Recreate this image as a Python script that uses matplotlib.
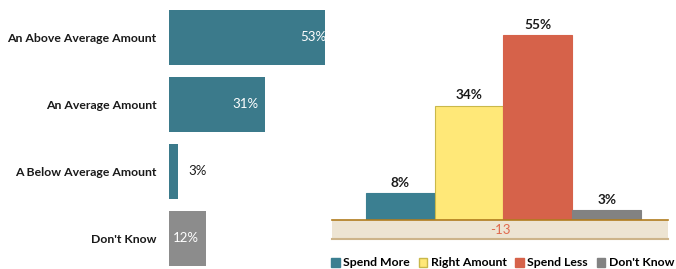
import matplotlib.pyplot as plt
import matplotlib.patches as mpatches
import matplotlib.transforms as mtransforms

# --- data ---
AMOUNT_CATS = ["An Above Average Amount", "An Average Amount", "A Below Average Amount", "Don't Know"]
AMOUNT_VALS = [53, 31, 3, 12]
AMOUNT_COLORS = ["#3B7A8B", "#3B7A8B", "#3B7A8B", "#8C8C8C"]

SPEND_CATS = ["Spend More", "Right Amount", "Spend Less", "Don't Know"]
SPEND_VALS = [8, 34, 55, 3]
SPEND_COLORS = ["#3B7F91", "#FFE878", "#D6624A", "#828282"]
SPEND_EDGES = ["#3B7F91", "#C9B84A", "#D6624A", "#828282"]
NET_SCORE = -13

plt.rcParams['font.family'] = ['Lato', 'DejaVu Sans']

W, H = 676, 269
fig = plt.figure(figsize=(W / 100, H / 100), dpi=100)

def box(x0, y0, x1, y1):
    # pixel box -> figure fraction
    return [x0 / W, 1 - y1 / H, (x1 - x0) / W, (y1 - y0) / H]

# --- left: horizontal bars (plot area clips the longest bar) ---
ax1 = fig.add_axes(box(169, 4, 325, 272))
ypos = list(range(len(AMOUNT_CATS)))
ax1.barh(ypos, AMOUNT_VALS, height=0.82, color=AMOUNT_COLORS)
ax1.set_xlim(0, 50.3)
ax1.set_ylim(3.5, -0.5)
ax1.set_yticks(ypos)
ax1.set_yticklabels(AMOUNT_CATS, fontsize=8.8, fontweight='bold', color='#1a1a1a')
ax1.tick_params(axis='y', length=0, pad=9)
ax1.set_xticks([])
for s in ax1.spines.values():
    s.set_visible(False)
inside = mtransforms.offset_copy(ax1.transData, fig=fig, x=-5, y=0, units='points')
outside = mtransforms.offset_copy(ax1.transData, fig=fig, x=7, y=0, units='points')
for y, v in zip(ypos, AMOUNT_VALS):
    if v > 8:
        ax1.text(v, y, f"{v}%", transform=inside, ha='right', va='center',
                 color='white', fontsize=9.5, clip_on=True)
    else:
        ax1.text(v, y, f"{v}%", transform=outside, ha='left', va='center',
                 color='#1a1a1a', fontsize=9.5)

# --- right: vertical bars ---
ax2 = fig.add_axes(box(332, 18, 668, 220))
xpos = list(range(len(SPEND_CATS)))
ax2.bar(xpos, SPEND_VALS, width=1.0, color=SPEND_COLORS, edgecolor=SPEND_EDGES, linewidth=0.8)
ax2.set_xlim(-0.99, 3.89)
ax2.set_ylim(0, 60)
ax2.axis('off')
for x, v in zip(xpos, SPEND_VALS):
    ax2.annotate(f"{v}%", (x, v), xytext=(0, 3), textcoords='offset points',
                 ha='center', va='bottom', fontsize=9.8, fontweight='bold', color='#1a1a1a')

# band under the bars with the net score
ax3 = fig.add_axes(box(332, 220, 668, 239))
ax3.set_facecolor('#EDE4D2')
ax3.set_xticks([])
ax3.set_yticks([])
for side in ['left', 'right']:
    ax3.spines[side].set_visible(False)
ax3.spines['top'].set_color('#B07C1E')
ax3.spines['top'].set_linewidth(1.2)
ax3.spines['bottom'].set_color('#CDB48A')
ax3.spines['bottom'].set_linewidth(1.5)
ax3.text(0.5, 0.5, str(NET_SCORE), ha='center', va='center', color='#E06A4E',
         fontsize=9.5, transform=ax3.transAxes)

# legend
handles = [mpatches.Patch(facecolor=c, edgecolor=e, label=l)
           for c, e, l in zip(SPEND_COLORS, SPEND_EDGES, SPEND_CATS)]
fig.legend(handles=handles, loc='center left', bbox_to_anchor=(331 / W, 1 - 263 / H),
           ncol=4, frameon=False, handlelength=0.7, handleheight=0.7, handletextpad=0.3,
           columnspacing=0.7, prop={'weight': 'bold', 'size': 8.8}, borderpad=0, borderaxespad=0)

fig.savefig("out.png", dpi=100)
